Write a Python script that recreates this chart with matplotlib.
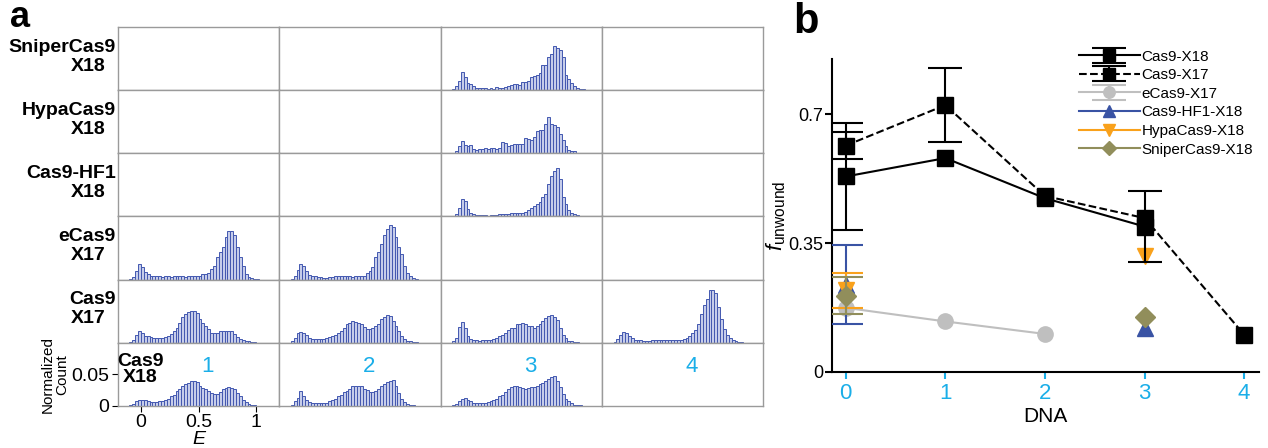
import numpy as np
import matplotlib
matplotlib.use('Agg')
import matplotlib.pyplot as plt

plt.rcParams['font.family'] = ['Liberation Sans', 'DejaVu Sans']
plt.rcParams['mathtext.fontset'] = 'custom'
plt.rcParams['mathtext.rm'] = 'Liberation Sans'
plt.rcParams['mathtext.it'] = 'Liberation Sans:italic'

# ---- panel a: FRET histograms, counts per bin in units of 1e-3 ----
bin_left = np.arange(46) * 0.025 - 0.1
bin_w = 0.025

sniper_x18_dna3 = [1, 6, 14, 28, 20, 11, 9, 6, 4, 4,
                   3, 3, 2, 4, 2, 5, 4, 4, 5, 6,
                   8, 9, 9, 8, 13, 13, 15, 20, 22, 24,
                   27, 40, 40, 52, 57, 69, 67, 64, 52, 24,
                   18, 11, 7, 3, 1, 1]
hypa_x18_dna3 = [1, 4, 11, 20, 13, 12, 13, 7, 5, 6,
                 6, 9, 7, 8, 9, 7, 9, 17, 16, 12,
                 13, 14, 14, 14, 14, 24, 23, 21, 26, 35,
                 37, 37, 46, 57, 47, 45, 42, 30, 21, 11,
                 5, 4, 4, 1, 1, 0]
hf1_x18_dna3 = [1, 4, 13, 28, 24, 11, 5, 3, 2, 2,
                2, 2, 1, 2, 2, 2, 3, 3, 3, 4,
                5, 5, 5, 5, 6, 7, 10, 13, 16, 19,
                23, 30, 36, 51, 64, 72, 77, 59, 30, 19,
                10, 5, 3, 2, 1, 0]
ecas9_x17_dna1 = [1, 4, 14, 24, 20, 12, 9, 6, 5, 5,
                  5, 4, 5, 5, 4, 5, 5, 6, 5, 4,
                  5, 5, 6, 6, 6, 8, 9, 10, 17, 22,
                  35, 43, 51, 67, 77, 77, 71, 51, 35, 21,
                  9, 4, 2, 1, 0.5, 0]
ecas9_x17_dna2 = [1, 6, 15, 24, 22, 14, 7, 6, 5, 4,
                  4, 3, 3, 4, 4, 5, 6, 6, 6, 5,
                  5, 4, 5, 5, 5, 6, 10, 13, 20, 35,
                  43, 57, 70, 80, 87, 83, 67, 52, 40, 22,
                  10, 5, 2, 1, 0, 0]
cas9_x17_dna1 = [1, 4, 13, 19, 16, 11, 10, 9, 7, 7,
                 7, 7, 9, 11, 14, 18, 24, 32, 41, 46,
                 48, 51, 50, 47, 38, 32, 27, 22, 16, 15,
                 15, 18, 19, 19, 19, 18, 14, 9, 6, 5,
                 3, 2, 1, 1, 0, 0]
cas9_x17_dna2 = [2, 8, 16, 17, 15, 13, 7, 6, 6, 6,
                 6, 6, 7, 9, 11, 13, 15, 19, 24, 30,
                 32, 34, 33, 32, 29, 25, 22, 22, 23, 27,
                 30, 38, 41, 44, 43, 35, 27, 18, 11, 6,
                 3, 2, 1, 1, 0, 0]
cas9_x17_dna3 = [2, 8, 25, 33, 23, 11, 6, 4, 4, 3,
                 4, 4, 5, 5, 6, 7, 10, 13, 16, 20,
                 23, 24, 30, 29, 31, 30, 27, 26, 24, 26,
                 30, 35, 39, 43, 44, 40, 36, 24, 13, 7,
                 3, 2, 1, 1, 0, 0]
cas9_x17_dna4 = [1, 6, 13, 17, 16, 10, 7, 5, 4, 4,
                 3, 3, 3, 4, 4, 4, 4, 4, 4, 5,
                 5, 5, 5, 4, 6, 8, 11, 16, 20, 30,
                 46, 59, 70, 83, 84, 79, 57, 38, 22, 13,
                 7, 4, 2, 1, 0.5, 0]
cas9_x18_dna1 = [1, 3, 7, 9, 10, 9, 7, 6, 6, 6,
                 7, 7, 10, 11, 15, 18, 23, 27, 31, 34,
                 37, 39, 40, 38, 32, 28, 26, 24, 21, 19,
                 19, 22, 26, 28, 30, 29, 26, 20, 15, 10,
                 6, 3, 2, 1, 0, 0]
cas9_x18_dna2 = [1, 7, 13, 23, 16, 10, 6, 5, 5, 5,
                 5, 5, 5, 7, 9, 11, 15, 18, 22, 23,
                 27, 31, 32, 32, 31, 27, 25, 22, 22, 23,
                 27, 32, 35, 38, 39, 41, 32, 20, 11, 6,
                 3, 2, 1, 0, 0, 0]
cas9_x18_dna3 = [1, 3, 7, 11, 12, 10, 7, 5, 5, 5,
                 5, 5, 6, 7, 9, 11, 15, 18, 22, 26,
                 30, 32, 31, 30, 28, 27, 29, 30, 30, 32,
                 34, 36, 40, 43, 46, 47, 40, 30, 19, 11,
                 7, 4, 2, 1, 1, 0]

row_names = [('SniperCas9', 'X18'), ('HypaCas9', 'X18'), ('Cas9-HF1', 'X18'),
             ('eCas9', 'X17'), ('Cas9', 'X17'), ('Cas9', 'X18')]
dna_labels = ['1', '2', '3', '4']

hists = {
    (0, 2): sniper_x18_dna3,
    (1, 2): hypa_x18_dna3,
    (2, 2): hf1_x18_dna3,
    (3, 0): ecas9_x17_dna1, (3, 1): ecas9_x17_dna2,
    (4, 0): cas9_x17_dna1, (4, 1): cas9_x17_dna2,
    (4, 2): cas9_x17_dna3, (4, 3): cas9_x17_dna4,
    (5, 0): cas9_x18_dna1, (5, 1): cas9_x18_dna2, (5, 2): cas9_x18_dna3,
}

# ---- panel b: unwound fraction (nan = no error bar) ----
nan = np.nan
cas9_x18_x = [0, 1, 2, 3]
cas9_x18 = [0.531, 0.581, 0.472, 0.395]
cas9_x18_err = [0.145, nan, nan, 0.097]
cas9_x17_x = [0, 1, 2, 3, 4]
cas9_x17 = [0.615, 0.725, 0.478, 0.418, 0.101]
cas9_x17_err = [0.036, 0.10, nan, nan, nan]
ecas9_x17_x = [0, 1, 2]
ecas9_x17 = [0.174, 0.137, 0.103]
ecas9_x17_err = [nan, nan, nan]
variant_x = [0, 1, 2, 3]
hf1_x18 = [0.237, nan, nan, 0.119]
hf1_x18_err = [0.108, nan, nan, nan]
hypa_x18 = [0.222, nan, nan, 0.314]
hypa_x18_err = [0.048, nan, nan, nan]
sniper_x18 = [0.207, nan, nan, 0.149]
sniper_x18_err = [0.05, nan, nan, nan]

legend_order = ['Cas9-X18', 'Cas9-X17', 'eCas9-X17', 'Cas9-HF1-X18',
                'HypaCas9-X18', 'SniperCas9-X18']

cyan = '#1aaee8'
grid_col = '#9a9a9a'

fig = plt.figure(figsize=(12.68, 4.48), dpi=100)
gs = fig.add_gridspec(6, 4, left=0.093, right=0.602, top=0.940, bottom=0.094,
                      hspace=0, wspace=0)

for r in range(6):
    for c in range(4):
        ax = fig.add_subplot(gs[r, c])
        ax.set_xlim(-0.2, 1.2)
        ax.set_ylim(0, 0.1)
        for sp in ax.spines.values():
            sp.set_color(grid_col)
            sp.set_linewidth(1)
        if (r, c) in hists:
            ax.bar(bin_left, np.array(hists[(r, c)]) / 1000., width=bin_w, align='edge',
                   facecolor='#c6cdea', edgecolor='#4358b0', linewidth=0.7)
        if r == 5 and c == 0:
            ax.set_yticks([0, 0.05])
            ax.set_yticklabels(['0', '0.05'])
            ax.set_xticks([0, 0.5, 1])
            ax.set_xticklabels(['0', '0.5', '1'])
            ax.tick_params(labelsize=14, length=4, pad=2)
            ax.set_xlabel('E', fontsize=14, style='italic', labelpad=0)
            ax.set_ylabel('Normalized\nCount', fontsize=11, labelpad=2, linespacing=1.0)
            ax.text(0.14, 0.58, 'Cas9\nX18', transform=ax.transAxes, ha='center',
                    va='center', fontsize=14, fontweight='bold', linespacing=0.95)
        else:
            ax.set_xticks([])
            ax.set_yticks([])
        if c == 0 and r < 5:
            ax.text(-0.012, 0.68, row_names[r][0], transform=ax.transAxes, ha='right',
                    va='center', fontsize=14, fontweight='bold')
            ax.text(-0.075, 0.38, row_names[r][1], transform=ax.transAxes, ha='right',
                    va='center', fontsize=14, fontweight='bold')
        if r == 5:
            ax.text(0.58, 0.062, dna_labels[c], color=cyan, fontsize=16,
                    ha='center', va='center')

fig.text(0.008, 1.0, 'a', fontsize=26, fontweight='bold', va='top')
fig.text(0.626, 0.995, 'b', fontsize=30, fontweight='bold', va='top')

# ---- panel b ----
axb = fig.add_axes([0.656, 0.170, 0.337, 0.698])
ms = 11
cap = 12
axb.errorbar(cas9_x18_x, cas9_x18, yerr=cas9_x18_err, color='black', marker='s', ms=ms,
             lw=1.5, capsize=cap, capthick=1.5, elinewidth=1.5, label='Cas9-X18', zorder=5)
axb.errorbar(cas9_x17_x, cas9_x17, yerr=cas9_x17_err, color='black', marker='s', ms=ms,
             lw=1.5, ls='--', capsize=cap, capthick=1.5, elinewidth=1.5, label='Cas9-X17',
             zorder=5)
axb.errorbar(ecas9_x17_x, ecas9_x17, yerr=ecas9_x17_err, color='#bfbfbf', marker='o',
             ms=ms, lw=1.5, capsize=cap, capthick=1.5, label='eCas9-X17', zorder=3)

variants = [(hf1_x18, hf1_x18_err, '#3953a4', '^', 'Cas9-HF1-X18'),
            (hypa_x18, hypa_x18_err, '#f9a11b', 'v', 'HypaCas9-X18'),
            (sniper_x18, sniper_x18_err, '#918e5b', 'D', 'SniperCas9-X18')]
for vals, err, col, mk, lab in variants:
    axb.errorbar(variant_x, vals, yerr=err, fmt='none', ecolor=col, capsize=cap,
                 capthick=1.5, elinewidth=1.5, zorder=4)
    axb.plot(variant_x, vals, color=col, marker=mk, ms=ms if mk != 'D' else 10, lw=1.5,
             label=lab, zorder=4)

axb.set_xlim(-0.14, 4.15)
axb.set_ylim(0, 0.85)
axb.set_yticks([0, 0.35, 0.7])
axb.set_yticklabels(['0', '0.35', '0.7'])
axb.set_xticks([0, 1, 2, 3, 4])
axb.tick_params(axis='y', labelsize=13, length=5, width=1.5, pad=1)
axb.tick_params(axis='x', labelsize=16, length=5, width=1.5, colors=cyan, pad=3)
axb.spines['top'].set_visible(False)
axb.spines['right'].set_visible(False)
axb.spines['left'].set_linewidth(1.5)
axb.spines['bottom'].set_linewidth(1.5)
axb.set_xlabel('DNA', fontsize=15, labelpad=2)
axb.set_ylabel(r'$f_{\mathrm{unwound}}$', fontsize=16, labelpad=0)

handles, labels = axb.get_legend_handles_labels()
lookup = dict(zip(labels, handles))
axb.legend([lookup[k] for k in legend_order], legend_order, loc='upper right',
           bbox_to_anchor=(1.0, 1.05), frameon=False, fontsize=11, markerscale=0.75,
           handlelength=4, handletextpad=0.1, labelspacing=0.3, borderaxespad=0)

fig.savefig('out.png', dpi=100)
